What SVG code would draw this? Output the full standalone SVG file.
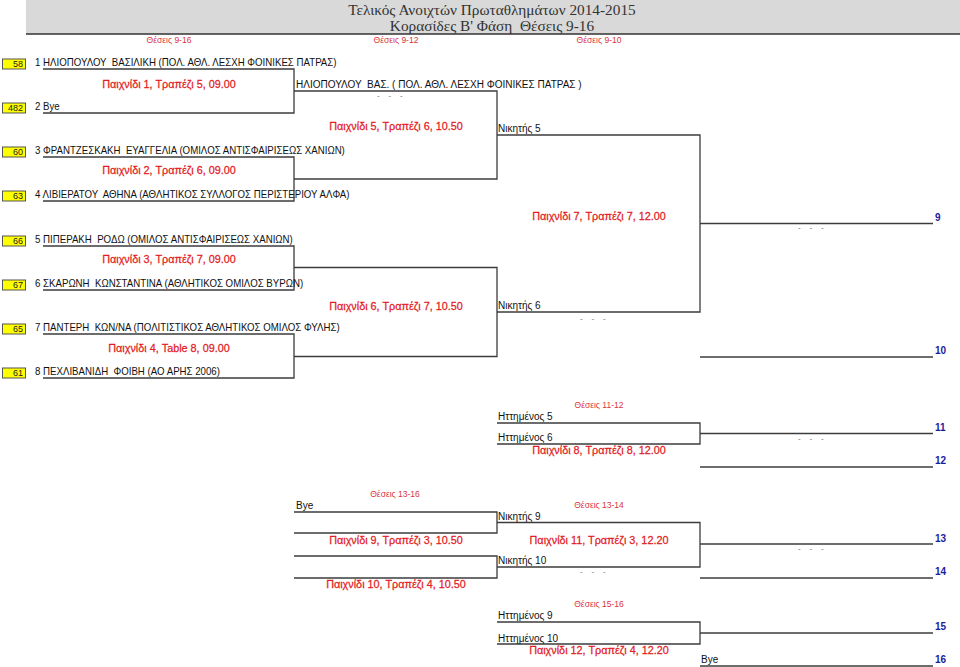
<svg xmlns="http://www.w3.org/2000/svg" width="960" height="667" viewBox="0 0 960 667">
<style>
text{font-family:"Liberation Sans",Arial,"DejaVu Sans",sans-serif;white-space:pre}
.ln{fill:none;stroke:#3c3c3c;stroke-width:1.3}
.pt{font-size:10px;fill:#111}
.pn{font-size:10.3px;fill:#111}
.ml{font-size:11.5px;fill:#e31b23;stroke:#e31b23;stroke-width:0.25;text-anchor:middle}
.hd{font-size:8.5px;fill:#d9343c;text-anchor:middle}
.rk{font-size:10px;font-weight:bold;fill:#1c1c9c}
.sb{fill:#ffff00;stroke:#555;stroke-width:1}
.sn{font-size:9px;fill:#222;text-anchor:end}
.ds{font-size:8px;fill:#666}
.tt{font-family:"Liberation Serif","Times New Roman",serif;font-size:15.3px;fill:#333;text-anchor:middle}
</style>
<g id="header">
<rect x="26" y="0" width="934" height="34" fill="#d9d9d9"/>
<line x1="26" y1="34" x2="960" y2="34" stroke="#333" stroke-width="1.5"/>
<text class="tt" x="492" y="15">Τελικός Ανοιχτών Πρωταθλημάτων 2014-2015</text>
<text class="tt" x="492" y="31">Κορασίδες Β' Φάση  Θέσεις 9-16</text>
<text class="hd" x="169" y="43">Θέσεις 9-16</text>
<text class="hd" x="396" y="43">Θέσεις 9-12</text>
<text class="hd" x="599" y="43">Θέσεις 9-10</text>
</g>
<g id="connectors">
<path class="ln" d="M43,69 H294 V113 H43"/>
<path class="ln" d="M43,157 H294 V201 H43"/>
<path class="ln" d="M43,246 H294 V290 H43"/>
<path class="ln" d="M43,334 H294 V378 H43"/>
<path class="ln" d="M294,91 H497 V179 H294"/>
<path class="ln" d="M294,267.5 H497 V356.5 H294"/>
<path class="ln" d="M497,135 H700 V312 H497"/>
<path class="ln" d="M700,223.5 H933"/>
<path class="ln" d="M700,357 H933"/>
<path class="ln" d="M497,423 H700 V444 H497"/>
<path class="ln" d="M700,433.5 H933"/>
<path class="ln" d="M700,467 H933"/>
<path class="ln" d="M294,512 H497 V533 H294"/>
<path class="ln" d="M294,556 H497 V578 H294"/>
<path class="ln" d="M497,522.5 H700 V567 H497"/>
<path class="ln" d="M700,544 H933"/>
<path class="ln" d="M700,578 H933"/>
<path class="ln" d="M497,622 H700 V644 H497"/>
<path class="ln" d="M700,633 H933"/>
<path class="ln" d="M700,666 H933"/>
</g>
<g id="p1"><rect class="sb" x="2.5" y="59" width="23" height="10"/><text class="sn" x="23" y="67">58</text><text class="pn" transform="translate(35,66) scale(.94,1)">1 ΗΛΙΟΠΟΥΛΟΥ  ΒΑΣΙΛΙΚΗ (ΠΟΛ. ΑΘΛ. ΛΕΣΧΗ ΦΟΙΝΙΚΕΣ ΠΑΤΡΑΣ)</text></g>
<g id="p2"><rect class="sb" x="2.5" y="103" width="23" height="10"/><text class="sn" x="23" y="111">482</text><text class="pn" transform="translate(35,110) scale(.94,1)">2 Bye</text></g>
<g id="p3"><rect class="sb" x="2.5" y="147" width="23" height="10"/><text class="sn" x="23" y="155">60</text><text class="pn" transform="translate(35,154) scale(.94,1)">3 ΦΡΑΝΤΖΕΣΚΑΚΗ  ΕΥΑΓΓΕΛΙΑ (ΟΜΙΛΟΣ ΑΝΤΙΣΦΑΙΡΙΣΕΩΣ ΧΑΝΙΩΝ)</text></g>
<g id="p4"><rect class="sb" x="2.5" y="191" width="23" height="10"/><text class="sn" x="23" y="199">63</text><text class="pn" transform="translate(35,198) scale(.94,1)">4 ΛΙΒΙΕΡΑΤΟΥ  ΑΘΗΝΑ (ΑΘΛΗΤΙΚΟΣ ΣΥΛΛΟΓΟΣ ΠΕΡΙΣΤΕΡΙΟΥ ΑΛΦΑ)</text></g>
<g id="p5"><rect class="sb" x="2.5" y="236" width="23" height="10"/><text class="sn" x="23" y="244">66</text><text class="pn" transform="translate(35,243) scale(.94,1)">5 ΠΙΠΕΡΑΚΗ  ΡΟΔΩ (ΟΜΙΛΟΣ ΑΝΤΙΣΦΑΙΡΙΣΕΩΣ ΧΑΝΙΩΝ)</text></g>
<g id="p6"><rect class="sb" x="2.5" y="280" width="23" height="10"/><text class="sn" x="23" y="288">67</text><text class="pn" transform="translate(35,287) scale(.94,1)">6 ΣΚΑΡΩΝΗ  ΚΩΝΣΤΑΝΤΙΝΑ (ΑΘΛΗΤΙΚΟΣ ΟΜΙΛΟΣ ΒΥΡΩΝ)</text></g>
<g id="p7"><rect class="sb" x="2.5" y="324" width="23" height="10"/><text class="sn" x="23" y="332">65</text><text class="pn" transform="translate(35,331) scale(.94,1)">7 ΠΑΝΤΕΡΗ  ΚΩΝ/ΝΑ (ΠΟΛΙΤΙΣΤΙΚΟΣ ΑΘΛΗΤΙΚΟΣ ΟΜΙΛΟΣ ΦΥΛΗΣ)</text></g>
<g id="p8"><rect class="sb" x="2.5" y="368" width="23" height="10"/><text class="sn" x="23" y="376">61</text><text class="pn" transform="translate(35,375) scale(.94,1)">8 ΠΕΧΛΙΒΑΝΙΔΗ  ΦΟΙΒΗ (ΑΟ ΑΡΗΣ 2006)</text></g>
<g id="m1"><text class="ml" transform="translate(169,88) scale(.943,1)">Παιχνίδι 1, Τραπέζι 5, 09.00</text></g>
<g id="m2"><text class="ml" transform="translate(169,174) scale(.943,1)">Παιχνίδι 2, Τραπέζι 6, 09.00</text></g>
<g id="m3"><text class="ml" transform="translate(169,263) scale(.943,1)">Παιχνίδι 3, Τραπέζι 7, 09.00</text></g>
<g id="m4"><text class="ml" transform="translate(169,352) scale(.943,1)">Παιχνίδι 4, Table 8, 09.00</text></g>
<g id="w1"><text class="pt" x="296" y="88">ΗΛΙΟΠΟΥΛΟΥ  ΒΑΣ. ( ΠΟΛ. ΑΘΛ. ΛΕΣΧΗ ΦΟΙΝΙΚΕΣ ΠΑΤΡΑΣ )</text><text class="ds" x="377" y="98">-    -    -</text></g>
<g id="m5"><text class="ml" transform="translate(396,130) scale(.943,1)">Παιχνίδι 5, Τραπέζι 6, 10.50</text></g>
<g id="m6"><text class="ml" transform="translate(396,310) scale(.943,1)">Παιχνίδι 6, Τραπέζι 7, 10.50</text></g>
<g id="w5"><text class="pt" x="498" y="132">Νικητής 5</text></g>
<g id="w6"><text class="pt" x="498" y="309">Νικητής 6</text><text class="ds" x="580" y="321">-    -    -</text></g>
<g id="m7"><text class="ml" transform="translate(599,220) scale(.943,1)">Παιχνίδι 7, Τραπέζι 7, 12.00</text><text class="ds" x="798" y="230">-    -    -</text></g>
<g id="r9"><text class="rk" x="935" y="221">9</text></g>
<g id="r10"><text class="rk" x="935" y="354">10</text></g>
<g id="m8">
<text class="hd" x="599" y="408">Θέσεις 11-12</text>
<text class="pt" x="498" y="420">Ηττημένος 5</text>
<text class="pt" x="498" y="441">Ηττημένος 6</text>
<text class="ml" transform="translate(599,454) scale(.943,1)">Παιχνίδι 8, Τραπέζι 8, 12.00</text>
<text class="ds" x="798" y="441">-    -    -</text>
</g>
<g id="r11"><text class="rk" x="935" y="431">11</text></g>
<g id="r12"><text class="rk" x="935" y="464">12</text></g>
<g id="m9">
<text class="hd" x="395" y="497">Θέσεις 13-16</text>
<text class="pt" x="296" y="509">Bye</text>
<text class="ml" transform="translate(396,544) scale(.943,1)">Παιχνίδι 9, Τραπέζι 3, 10.50</text>
</g>
<g id="m10">
<text class="ml" transform="translate(396,588) scale(.943,1)">Παιχνίδι 10, Τραπέζι 4, 10.50</text>
</g>
<g id="m11">
<text class="hd" x="599" y="508">Θέσεις 13-14</text>
<text class="pt" x="498" y="520">Νικητής 9</text>
<text class="pt" x="498" y="564">Νικητής 10</text>
<text class="ml" transform="translate(599,544) scale(.943,1)">Παιχνίδι 11, Τραπέζι 3, 12.20</text>
<text class="ds" x="798" y="551">-    -    -</text>
<text class="ds" x="580" y="574">-    -    -</text>
</g>
<g id="r13"><text class="rk" x="935" y="542">13</text></g>
<g id="r14"><text class="rk" x="935" y="575">14</text></g>
<g id="m12">
<text class="hd" x="599" y="607">Θέσεις 15-16</text>
<text class="pt" x="498" y="619">Ηττημένος 9</text>
<text class="pt" x="498" y="642">Ηττημένος 10</text>
<text class="ml" transform="translate(599,654) scale(.943,1)">Παιχνίδι 12, Τραπέζι 4, 12.20</text>
<text class="pt" x="701" y="663">Bye</text>
</g>
<g id="r15"><text class="rk" x="935" y="630">15</text></g>
<g id="r16"><text class="rk" x="935" y="663">16</text></g>
</svg>
